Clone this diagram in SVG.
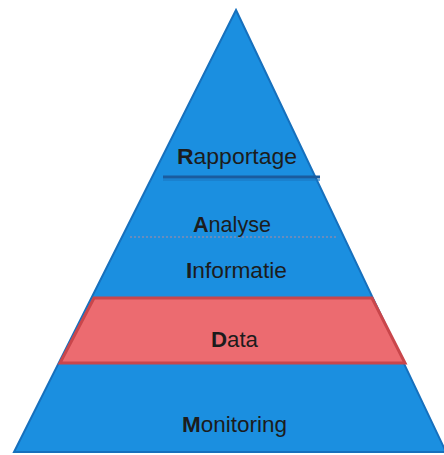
<svg xmlns="http://www.w3.org/2000/svg" width="444" height="455" viewBox="0 0 444 455">
  <style>
    .lbl { font-family: "Liberation Sans", Arial, sans-serif; font-size: 22px; fill: #1c1c1c; }
    .ini { font-weight: bold; }
    .blue { fill: #1b8fe0; stroke: #1670bd; stroke-width: 2; stroke-linejoin: miter; }
    .red { fill: #ec6b70; stroke: #c9464b; stroke-width: 3; stroke-linejoin: miter; }
  </style>
  <rect width="444" height="455" fill="#ffffff"/>
  <g id="pyramid">
    <polygon class="blue" points="236,10 446,452 14,452"/>
  </g>
  <g id="separators">
    <line x1="163" y1="177" x2="320" y2="177" stroke="#1a5c9e" stroke-width="3"/>
    <line x1="163" y1="180" x2="320" y2="180" stroke="#1a78c4" stroke-width="2" opacity="0.6"/>
    <line x1="130" y1="237" x2="337" y2="237" stroke="#b88a9a" stroke-width="1.2" stroke-dasharray="2 2"/>
  </g>
  <g id="rapportage">
    <text class="lbl" x="177" y="164" textLength="120" lengthAdjust="spacingAndGlyphs"><tspan class="ini">R</tspan>apportage</text>
  </g>
  <g id="analyse">
    <text class="lbl" x="193" y="232" textLength="78" lengthAdjust="spacingAndGlyphs"><tspan class="ini">A</tspan>nalyse</text>
  </g>
  <g id="informatie">
    <text class="lbl" x="186" y="278" textLength="101" lengthAdjust="spacingAndGlyphs"><tspan class="ini">I</tspan>nformatie</text>
  </g>
  <g id="data">
    <polygon class="red" points="94,298 372,298 405,363 60,363"/>
    <text class="lbl" x="211" y="347" textLength="47" lengthAdjust="spacingAndGlyphs"><tspan class="ini">D</tspan>ata</text>
  </g>
  <g id="monitoring">
    <text class="lbl" x="182" y="432" textLength="105" lengthAdjust="spacingAndGlyphs"><tspan class="ini">M</tspan>onitoring</text>
  </g>
  <g id="connectors"/>
</svg>
